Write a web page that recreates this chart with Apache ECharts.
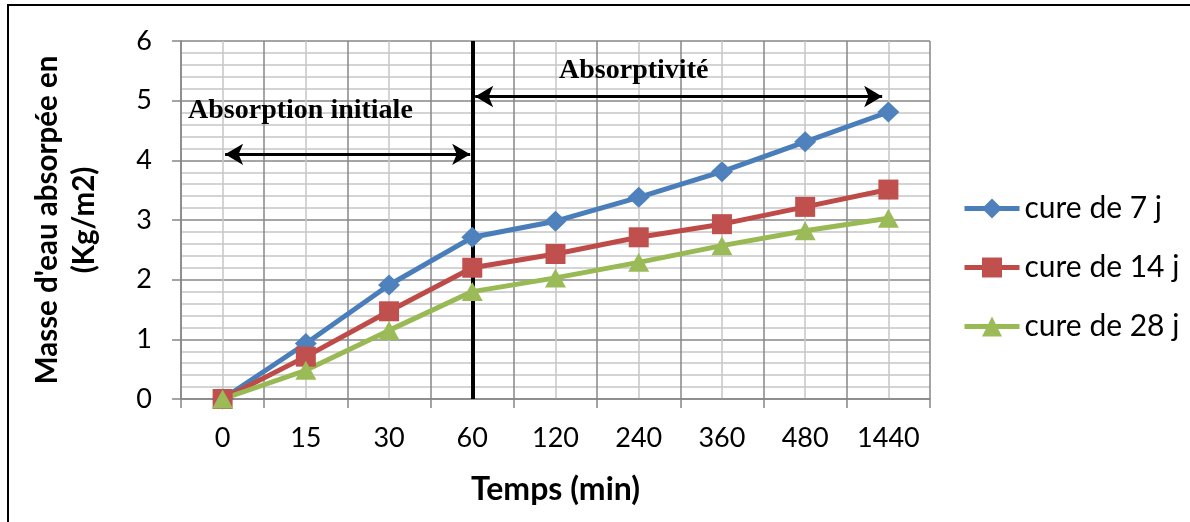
<!DOCTYPE html>
<html>
<head>
<meta charset="utf-8">
<script src="https://cdn.jsdelivr.net/npm/echarts@6/dist/echarts.min.js"></script>
<style>
  html, body { margin: 0; padding: 0; background: #fff; }
  #chart { width: 1190px; height: 522px; }
</style>
</head>
<body>
<div id="chart"></div>
<script>
// Water absorption over time for three curing durations
const categories = ['0', '15', '30', '60', '120', '240', '360', '480', '1440'];
const cure7  = [0, 0.93, 1.91, 2.71, 2.98, 3.38, 3.81, 4.31, 4.81];
const cure14 = [0, 0.71, 1.47, 2.20, 2.43, 2.71, 2.93, 3.22, 3.51];
const cure28 = [0, 0.48, 1.15, 1.80, 2.03, 2.29, 2.57, 2.82, 3.03];
const seriesNames = ['cure de 7 j', 'cure de 14 j', 'cure de 28 j'];

// Phase annotations: x in helper-axis units (2 per category), y in kg/m2
const phaseDivider = 7;                       // centre of the '60' category
const initialArrow = [[1.06, 4.1], [6.95, 4.1]];
const absorptivityArrow = [[7.07, 5.07], [16.85, 5.07]];
const phaseLabels = [
  { text: 'Absorption initiale', at: [2.87, 4.83] },
  { text: 'Absorptivité', at: [10.88, 5.5] }
];

const SANS = 'Lato';
const SERIF = 'Liberation Serif';
const MAJOR = '#878787';
const MINOR = '#C6C6C6';

function curve(name, data, lineColor, markColor, symbol, size) {
  return {
    name, type: 'line', data,
    xAxisIndex: 0, yAxisIndex: 0,
    symbol, symbolSize: size,
    lineStyle: { color: lineColor, width: 5 },
    itemStyle: { color: markColor },
    z: 5
  };
}

const chart = echarts.init(document.getElementById('chart'), null, { renderer: 'canvas' });
chart.setOption({
  animation: false,
  backgroundColor: '#fff',
  grid: { left: 181, right: 260, top: 41, bottom: 123, containLabel: false },
  graphic: [{
    type: 'rect', silent: true, z: -10,
    shape: { x: 8, y: 5, width: 1400, height: 700 },
    style: { fill: 'none', stroke: '#000', lineWidth: 2 }
  }],
  legend: {
    orient: 'vertical', left: 957, top: 188,
    itemWidth: 55, itemHeight: 25, itemGap: 28,
    lineStyle: { width: 5 },
    textStyle: { fontFamily: SANS, fontSize: 30, color: '#000', lineHeight: 31 },
    data: seriesNames
  },
  xAxis: [{
    type: 'category', data: categories, boundaryGap: true,
    axisLine: { show: true, lineStyle: { color: MAJOR, width: 1.5 } },
    axisTick: { show: true, length: 9, lineStyle: { color: MAJOR, width: 1.5 } },
    axisLabel: { fontFamily: SANS, fontSize: 27, color: '#000', margin: 26, interval: 0 },
    splitLine: { show: false },
    name: 'Temps (min)', nameLocation: 'middle', nameGap: 75,
    nameTextStyle: { fontFamily: SANS, fontWeight: 'bold', fontSize: 32, color: '#000' }
  }, {
    // helper axis: category boundaries (major) and centres (minor)
    type: 'value', min: 0, max: 18, interval: 2, position: 'bottom',
    axisLine: { show: false }, axisTick: { show: false }, axisLabel: { show: false },
    splitLine: { show: true, lineStyle: { color: MAJOR, width: 1.5 } },
    minorTick: { show: false, splitNumber: 2 },
    minorSplitLine: { show: true, lineStyle: { color: MINOR, width: 1.5 } }
  }],
  yAxis: [{
    type: 'value', min: 0, max: 6, interval: 1,
    axisLine: { show: true, lineStyle: { color: MAJOR, width: 1.5 } },
    axisTick: { show: true, length: 9, lineStyle: { color: MAJOR, width: 1.5 } },
    axisLabel: { fontFamily: SANS, fontSize: 27, color: '#000', margin: 29 },
    splitLine: { show: true, lineStyle: { color: MAJOR, width: 1.5 } },
    minorTick: { show: false, splitNumber: 5 },
    minorSplitLine: { show: true, lineStyle: { color: MINOR, width: 1.5 } },
    name: "Masse d'eau absorpée en\n(Kg/m2)", nameLocation: 'middle', nameGap: 78,
    nameTextStyle: { fontFamily: SANS, fontWeight: 'bold', fontSize: 29.5, color: '#000', lineHeight: 37, align: 'center' }
  }],
  series: [
    curve(seriesNames[0], cure7, '#4A7EBB', '#4F81BD', 'diamond', [22, 21]),
    curve(seriesNames[1], cure14, '#BE4B48', '#C0504D', 'rect', 20),
    curve(seriesNames[2], cure28, '#98B954', '#9BBB59', 'triangle', [21, 19]),
    {
      // phase arrows and labels
      type: 'scatter', xAxisIndex: 1, yAxisIndex: 0, data: [], silent: true, z: 6,
      markLine: {
        silent: true, animation: false,
        symbol: ['arrow', 'arrow'], symbolSize: [16, 18],
        label: { show: false },
        lineStyle: { color: '#000', width: 3, type: 'solid' },
        emphasis: { disabled: true },
        data: [
          [{ coord: initialArrow[0] }, { coord: initialArrow[1] }],
          [{ coord: absorptivityArrow[0] }, { coord: absorptivityArrow[1] }]
        ]
      },
      markPoint: {
        silent: true, animation: false,
        symbol: 'circle', symbolSize: 1,
        itemStyle: { color: 'rgba(0,0,0,0)' },
        label: {
          show: true, position: 'inside', formatter: p => p.name,
          fontFamily: SERIF, fontWeight: 'bold', fontSize: 28, color: '#000'
        },
        data: phaseLabels.map(l => ({ name: l.text, coord: l.at }))
      }
    },
    {
      // boundary between the two absorption phases
      type: 'scatter', xAxisIndex: 1, yAxisIndex: 0, data: [], silent: true, z: 4,
      markLine: {
        silent: true, animation: false, symbol: 'none',
        label: { show: false },
        lineStyle: { color: '#000', width: 4, type: 'solid' },
        emphasis: { disabled: true },
        data: [[{ coord: [phaseDivider, 0] }, { coord: [phaseDivider, 6] }]]
      }
    }
  ]
});
</script>
</body>
</html>
